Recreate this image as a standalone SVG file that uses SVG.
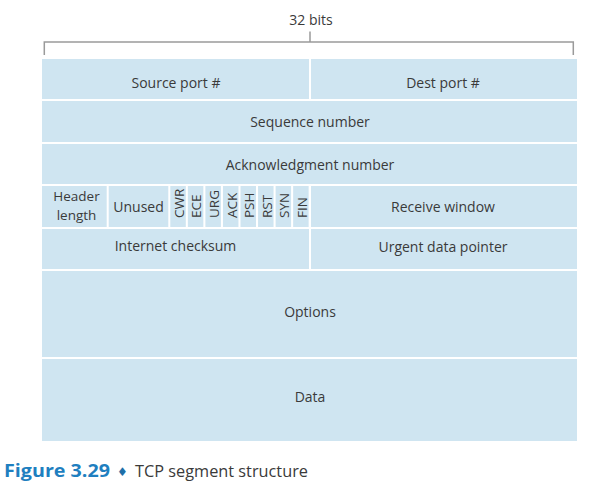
<svg xmlns="http://www.w3.org/2000/svg" width="605" height="492" viewBox="0 0 605 492">
<style>
.c{fill:#cfe5f1}
.t{font-family:"Open Sans","Noto Sans","Liberation Sans",sans-serif;font-size:14px;fill:#3a3a3a;text-anchor:middle}
.h{font-size:13.5px}
.f{font-family:"Open Sans","Noto Sans","Liberation Sans",sans-serif;font-size:13.5px;fill:#3a3a3a;text-anchor:start}
.br{fill:none;stroke:#9a9a9a;stroke-width:1.5}
</style>
<rect width="605" height="492" fill="#ffffff"/>
<g id="bracket">
<path class="br" d="M44.3,55 V42 H573.3 V55 M310,42 V31.5"/>
<text class="t" x="311" y="25">32 bits</text>
</g>
<g id="src"><rect class="c" x="42" y="59" width="267" height="40"/><text class="t" x="176" y="87.5">Source port #</text></g>
<g id="dst"><rect class="c" x="311" y="59" width="266" height="40"/><text class="t" x="443" y="87.5">Dest port #</text></g>
<g id="seq"><rect class="c" x="42" y="101" width="535" height="41"/><text class="t" x="310" y="127">Sequence number</text></g>
<g id="ack"><rect class="c" x="42" y="144" width="535" height="40"/><text class="t" x="310" y="170">Acknowledgment number</text></g>
<g id="hlen"><rect class="c" x="42" y="186" width="64.7" height="41"/><text class="t h" x="76.5" y="201">Header</text><text class="t h" x="76.5" y="219.5">length</text></g>
<g id="unused"><rect class="c" x="108.7" y="186" width="59.6" height="41"/><text class="t" x="138.5" y="211.7">Unused</text></g>
<g id="cwr"><rect class="c" x="170.3" y="186" width="15.5" height="41"/><text class="f" transform="translate(183.9,218) rotate(-90)">CWR</text></g>
<g id="ece"><rect class="c" x="187.85" y="186" width="15.5" height="41"/><text class="f" transform="translate(201.45,218) rotate(-90)">ECE</text></g>
<g id="urgf"><rect class="c" x="205.4" y="186" width="15.5" height="41"/><text class="f" transform="translate(219,218) rotate(-90)">URG</text></g>
<g id="ackf"><rect class="c" x="222.95" y="186" width="15.5" height="41"/><text class="f" transform="translate(236.55,218) rotate(-90)">ACK</text></g>
<g id="psh"><rect class="c" x="240.5" y="186" width="15.5" height="41"/><text class="f" transform="translate(254.1,218) rotate(-90)">PSH</text></g>
<g id="rst"><rect class="c" x="258.05" y="186" width="15.5" height="41"/><text class="f" transform="translate(271.65,218) rotate(-90)">RST</text></g>
<g id="syn"><rect class="c" x="275.6" y="186" width="15.5" height="41"/><text class="f" transform="translate(289.2,218) rotate(-90)">SYN</text></g>
<g id="fin"><rect class="c" x="293.15" y="186" width="15.5" height="41"/><text class="f" transform="translate(306.75,218) rotate(-90)">FIN</text></g>
<g id="rwnd"><rect class="c" x="311" y="186" width="266" height="41"/><text class="t" x="443" y="212">Receive window</text></g>
<g id="csum"><rect class="c" x="42" y="229" width="267" height="40"/><text class="t" x="175.5" y="251">Internet checksum</text></g>
<g id="urgp"><rect class="c" x="311" y="229" width="266" height="40"/><text class="t" x="443" y="252">Urgent data pointer</text></g>
<g id="opts"><rect class="c" x="42" y="271" width="535" height="86"/><text class="t" x="310" y="317">Options</text></g>
<g id="data"><rect class="c" x="42" y="359" width="535" height="82"/><text class="t" x="310" y="402">Data</text></g>
<g id="connectors"></g>
<g id="caption">
<text x="4" y="476.5" font-family="'Open Sans','Liberation Sans',sans-serif" font-size="18.5" font-weight="bold" fill="#1f7fc0" textLength="106" lengthAdjust="spacingAndGlyphs">Figure 3.29</text>
<text x="117" y="476" font-family="'DejaVu Sans',sans-serif" font-size="12" fill="#1f6fa8">♦</text>
<text x="135" y="476.5" font-family="'Open Sans','Liberation Sans',sans-serif" font-size="16.3" fill="#3a3a3a" textLength="173" lengthAdjust="spacingAndGlyphs">TCP segment structure</text>
</g>
</svg>
